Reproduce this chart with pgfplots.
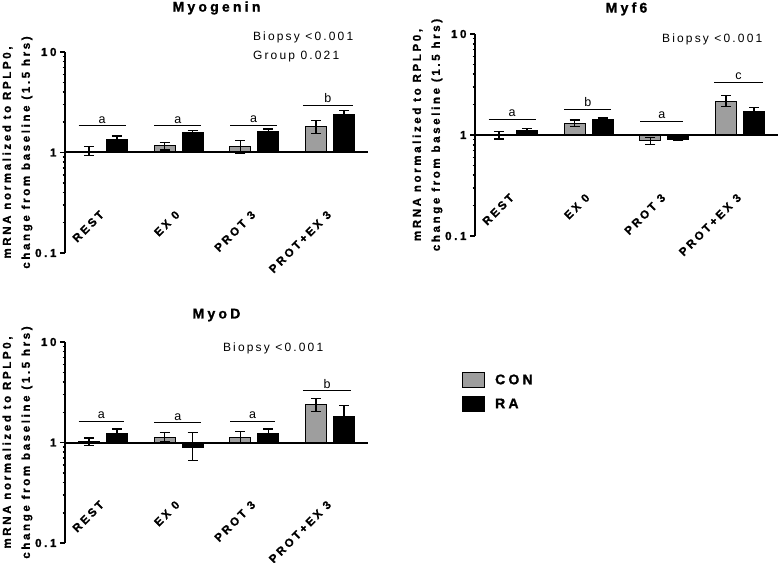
\documentclass[border=0pt]{standalone}
\usepackage{fontspec}
\setmainfont{Liberation Sans}
\newfontfamily\lsb[LetterSpace=23, BoldFeatures={FakeBold=1.2}]{Liberation Sans}
\newfontfamily\lsr[LetterSpace=18]{Liberation Sans}
\usepackage{pgfplots}
\pgfplotsset{compat=1.18}

\definecolor{congray}{RGB}{158,158,158}
\newcommand\fs[1]{\fontsize{#1}{#1}\selectfont}

% one style for all three panels (1px = 1pt)
\pgfplotsset{
  genepanel/.style={
    ymin=0.1, ymax=10,
    xmin=-0.5, xmax=3.5,
    scale only axis, width=303pt, height=201pt,
    anchor=south west, clip=false,
    ybar=7pt, bar width=21pt,
    axis y line*=left, axis x line*=bottom,
    x axis line style={draw=none},
    y axis line style={line width=2pt},
    ytick={0.1,1,10}, yticklabels={0.1,1,10},
    xtick={0,1,2,3}, xticklabels={REST,EX 0,PROT 3,PROT+EX 3},
    tick align=outside,
    major tick length=5pt, minor tick length=2.5pt,
    y tick style={line width=1.5pt, black},
    x tick style={draw=none},
    yticklabel style={font=\lsb\bfseries\fs{11.5}},
    xticklabel style={font=\lsb\bfseries\fs{11.5}, yshift=53pt, xshift=-4pt, rotate=45, anchor=north east},
    ylabel={mRNA normalized to RPLP0,\\change from baseline (1.5 hrs)},
    ylabel style={at={(axis description cs:-0.157,0.5)}, anchor=center, align=center,
                  font=\lsb\bfseries\fontsize{11.5}{19}\selectfont},
    error bars/y dir=both, error bars/y explicit,
    error bars/error bar style={line width=1.3pt, black},
    error bars/error mark options={rotate=90, line width=1.3pt, mark size=5pt, black},
  },
  con/.style={fill=congray, draw=black, line width=1pt},
  ra/.style={fill=black, draw=black, line width=1pt},
  boxlegend/.style={legend image code/.code={\draw[##1] (0pt,-7.5pt) rectangle (22pt,7.5pt);}},
}

% bracket with letter: x-left, x-right, y, letter
\newcommand\brk[4]{\draw[line width=1.2pt] (axis cs:#1,#3) -- (axis cs:#2,#3)
  node[midway, above, yshift=1pt, inner sep=1pt, font=\lsr\fs{12.5}] {#4};}

\begin{document}
\begin{tikzpicture}
\path[use as bounding box] (0,0) rectangle (778pt,562pt);

% Myogenin
\begin{semilogyaxis}[genepanel, at={(65pt,309pt)}]
\addplot+[con] coordinates {
  (0,1.03) += (0,0.11) -= (0,0.10)
  (1,1.17) += (0,0.08) -= (0,0.11)
  (2,1.14) += (0,0.17) -= (0,0.17)
  (3,1.80) += (0,0.27) -= (0,0.25)
};
\addplot+[ra] coordinates {
  (0,1.36) += (0,0.10) -= (0,0.10)
  (1,1.57) += (0,0.09) -= (0,0.09)
  (2,1.63) += (0,0.08) -= (0,0.08)
  (3,2.37) += (0,0.23) -= (0,0.23)
};
\draw[line width=2pt] (axis cs:-0.5,1) -- (axis cs:3.5,1);
\brk{-0.32}{0.30}{1.84}{a}
\brk{0.68}{1.30}{1.84}{a}
\brk{1.68}{2.30}{1.86}{a}
\brk{2.64}{3.30}{2.94}{b}
\node[anchor=west, font=\lsr\fs{12}, inner sep=0pt] at (rel axis cs:0.62,1.075) {Biopsy <0.001};
\node[anchor=west, font=\lsr\fs{12}, inner sep=0pt] at (rel axis cs:0.62,0.975) {Group 0.021};
\node[font=\lsb\bfseries\fs{14}] at (rel axis cs:0.5,1.219) {Myogenin};
\end{semilogyaxis}

% Myf6
\begin{semilogyaxis}[genepanel, at={(475pt,326pt)}, height=202pt]
\addplot+[con] coordinates {
  (0,1.01) += (0,0.07) -= (0,0.10)
  (1,1.31) += (0,0.10) -= (0,0.09)
  (2,0.88) += (0,0.07) -= (0,0.07)
  (3,2.14) += (0,0.31) -= (0,0.23)
};
\addplot+[ra] coordinates {
  (0,1.12) += (0,0.04) -= (0,0.04)
  (1,1.42) += (0,0.05) -= (0,0.05)
  (2,0.91) += (0,0.03) -= (0,0.03)
  (3,1.70) += (0,0.16) -= (0,0.16)
};
\draw[line width=2pt] (axis cs:-0.5,1) -- (axis cs:3.5,1);
\brk{-0.32}{0.30}{1.42}{a}
\brk{0.68}{1.30}{1.78}{b}
\brk{1.68}{2.25}{1.37}{a}
\brk{2.66}{3.30}{3.30}{c}
\node[anchor=west, font=\lsr\fs{12}, inner sep=0pt] at (rel axis cs:0.617,0.975) {Biopsy <0.001};
\node[font=\lsb\bfseries\fs{14}] at (rel axis cs:0.5,1.124) {Myf6};
\end{semilogyaxis}

% MyoD
\begin{semilogyaxis}[genepanel, at={(65pt,19pt)},
  legend cell align=left,
  legend style={draw=none, fill=none, at={(1.31,0.851)}, anchor=north west,
                inner sep=0pt, row sep=8pt, font=\lsb\bfseries\fs{14}}]
\addplot+[con, boxlegend] coordinates {
  (0,1.02) += (0,0.09) -= (0,0.09)
  (1,1.13) += (0,0.13) -= (0,0.11)
  (2,1.13) += (0,0.16) -= (0,0.14)
  (3,2.37) += (0,0.39) -= (0,0.34)
};
\addlegendentry{\hspace{8pt}CON}
\addplot+[ra, boxlegend] coordinates {
  (0,1.23) += (0,0.13) -= (0,0.13)
  (1,0.885) += (0,0.375) -= (0,0.225)
  (2,1.23) += (0,0.13) -= (0,0.13)
  (3,1.81) += (0,0.54) -= (0,0.41)
};
\addlegendentry{\hspace{8pt}RA}
\draw[line width=2pt] (axis cs:-0.5,1) -- (axis cs:3.5,1);
\brk{-0.32}{0.28}{1.63}{a}
\brk{0.68}{1.30}{1.57}{a}
\brk{1.68}{2.27}{1.63}{a}
\brk{2.64}{3.28}{3.27}{b}
\node[anchor=west, font=\lsr\fs{12}, inner sep=0pt] at (rel axis cs:0.521,0.97) {Biopsy <0.001};
\node[font=\lsb\bfseries\fs{14}] at (rel axis cs:0.5,1.134) {MyoD};
\end{semilogyaxis}
\end{tikzpicture}
\end{document}
